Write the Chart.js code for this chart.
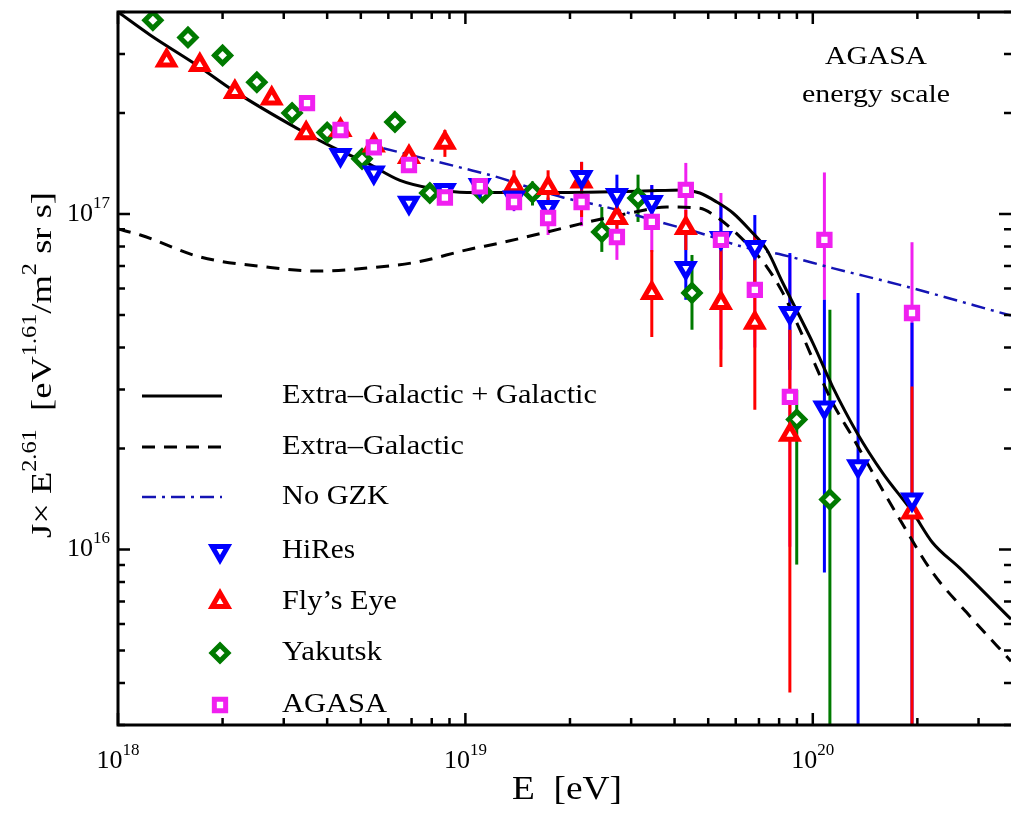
<!DOCTYPE html>
<html>
<head>
<meta charset="utf-8">
<script src="https://cdn.jsdelivr.net/npm/chart.js@4.4.1/dist/chart.umd.min.js"></script>
<style>
  html, body { margin: 0; padding: 0; background: #fff; }
  canvas { display: block; }
</style>
</head>
<body>
<canvas id="spectrum" width="1011" height="813"></canvas>
<script>
// axis range
const xMin = 1e18, xMax = 3.72e20;
const yMin = 3e15, yMax = 4e17;

// model curves (E in eV, J*E^2.61)
const totalE = [1e18, 1.24e18, 1.72e18, 2.14e18, 3.34e18, 4.16e18, 5.21e18, 6.48e18, 8.06e18, 1.01e19, 1.75e19, 3.18e19, 4.23e19, 4.73e19, 5.29e19, 5.89e19, 6.59e19, 7.38e19, 8.2e19, 9.18e19, 1e20, 1.14e20, 1.34e20, 1.59e20, 1.94e20, 2.21e20, 2.65e20, 3.72e20];
const totalJ = [4.0e17, 3.41e17, 2.74e17, 2.34e17, 1.78e17, 1.58e17, 1.42e17, 1.26e17, 1.19e17, 1.16e17, 1.16e17, 1.17e17, 1.18e17, 1.155e17, 1.086e17, 1.007e17, 8.96e16, 7.81e16, 6.23e16, 4.94e16, 4.13e16, 3.06e16, 2.23e16, 1.69e16, 1.29e16, 1.05e16, 8.8e15, 6.2e15];

const extraE = [1e18, 1.16e18, 1.72e18, 2.68e18, 3.74e18, 5.21e18, 7.25e18, 1.01e19, 1.26e19, 1.72e19, 2.39e19, 3.03e19, 3.8e19, 4.73e19, 5.29e19, 5.89e19, 6.59e19, 7.38e19, 8.2e19, 9.18e19, 1.14e20, 1.3e20, 1.53e20, 1.78e20, 2.21e20, 2.77e20, 3.72e20];
const extraJ = [9.02e16, 8.66e16, 7.45e16, 6.95e16, 6.76e16, 6.9e16, 7.19e16, 7.82e16, 8.2e16, 8.84e16, 9.6e16, 1.01e17, 1.05e17, 1.04e17, 9.8e16, 8.96e16, 7.98e16, 6.95e16, 5.82e16, 4.52e16, 2.74e16, 2.17e16, 1.61e16, 1.23e16, 8.55e15, 6.5e15, 4.65e15];

const nogzkE = [5.8e18, 7.91e18, 9.84e18, 1.23e19, 1.53e19, 1.91e19, 2.44e19, 2.92e19, 3.63e19, 4.73e19, 6.17e19, 8.2e19, 1.14e20, 1.78e20, 3.72e20];
const nogzkJ = [1.57e17, 1.45e17, 1.37e17, 1.29e17, 1.2e17, 1.12e17, 1.06e17, 1.01e17, 9.46e16, 8.78e16, 8.03e16, 7.55e16, 6.9e16, 6.15e16, 4.98e16];

// measurements (value, lower and upper end of error bar)
const hiresE = [4.37e18, 5.45e18, 6.88e18, 8.73e18, 1.1e19, 1.38e19, 1.73e19, 2.16e19, 2.73e19, 3.44e19, 4.31e19, 5.44e19, 6.81e19, 8.59e19, 1.08e20, 1.35e20, 1.93e20];
const hiresJ = [1.5e17, 1.33e17, 1.08e17, 1.18e17, 1.22e17, 1.12e17, 1.05e17, 1.29e17, 1.14e17, 1.086e17, 6.91e16, 8.48e16, 7.98e16, 5.07e16, 2.65e16, 1.77e16, 1.41e16];
const hiresLo = [1.45e17, 1.29e17, 1.04e17, 1.13e17, 1.17e17, 1.03e17, 9.9e16, 1.16e17, 9.93e16, 8.96e16, 5.55e16, 6.36e16, 6.15e16, 3.43e16, 8.54e15, 1e15, 1e15];
const hiresHi = [1.55e17, 1.37e17, 1.12e17, 1.23e17, 1.27e17, 1.22e17, 1.12e17, 1.43e17, 1.31e17, 1.22e17, 8.66e16, 1.064e17, 9.93e16, 7.65e16, 5.55e16, 5.82e16, 4.74e16];

const flysE = [1.38e18, 1.72e18, 2.17e18, 2.77e18, 3.48e18, 4.37e18, 5.45e18, 6.88e18, 8.73e18, 1.38e19, 1.73e19, 2.16e19, 2.73e19, 3.44e19, 4.31e19, 5.44e19, 6.81e19, 8.59e19, 1.93e20];
const flysJ = [2.87e17, 2.78e17, 2.31e17, 2.21e17, 1.74e17, 1.78e17, 1.6e17, 1.48e17, 1.63e17, 1.21e17, 1.195e17, 1.25e17, 9.73e16, 5.82e16, 9.08e16, 5.43e16, 4.74e16, 2.2e16, 1.29e16];
const flysLo = [2.8e17, 2.7e17, 2.25e17, 2.15e17, 1.69e17, 1.72e17, 1.54e17, 1.41e17, 1.48e17, 1.064e17, 1.064e17, 9.8e16, 8.37e16, 4.3e16, 7.81e16, 3.5e16, 2.61e16, 3.75e15, 1e15];
const flysHi = [2.95e17, 2.86e17, 2.38e17, 2.28e17, 1.8e17, 1.84e17, 1.66e17, 1.55e17, 1.78e17, 1.35e17, 1.35e17, 1.43e17, 1.1e17, 7.81e16, 1.028e17, 7.81e16, 8.66e16, 4.52e16, 3.06e16];

const yakE = [1.26e18, 1.59e18, 2.0e18, 2.51e18, 3.17e18, 4.0e18, 5.04e18, 6.27e18, 7.9e18, 1.12e19, 1.56e19, 2.47e19, 3.14e19, 4.49e19, 8.99e19, 1.12e20];
const yakJ = [3.78e17, 3.36e17, 2.97e17, 2.47e17, 2.0e17, 1.75e17, 1.46e17, 1.88e17, 1.155e17, 1.16e17, 1.16e17, 8.84e16, 1.116e17, 5.82e16, 2.44e16, 1.41e16];
const yakLo = [3.7e17, 3.29e17, 2.9e17, 2.41e17, 1.95e17, 1.7e17, 1.42e17, 1.82e17, 1.11e17, 1.11e17, 1.06e17, 7.71e16, 9.47e16, 4.52e16, 9.02e15, 1e15];
const yakHi = [3.86e17, 3.43e17, 3.04e17, 2.53e17, 2.05e17, 1.8e17, 1.5e17, 1.94e17, 1.2e17, 1.21e17, 1.25e17, 1.049e17, 1.31e17, 7.55e16, 2.99e16, 5.18e16];

const agasaE = [3.5e18, 4.37e18, 5.45e18, 6.88e18, 8.73e18, 1.1e19, 1.38e19, 1.73e19, 2.16e19, 2.73e19, 3.44e19, 4.31e19, 5.44e19, 6.81e19, 8.59e19, 1.08e20, 1.93e20];
const agasaJ = [2.14e17, 1.78e17, 1.58e17, 1.4e17, 1.12e17, 1.21e17, 1.086e17, 9.73e16, 1.086e17, 8.54e16, 9.47e16, 1.18e17, 8.37e16, 5.94e16, 2.85e16, 8.37e16, 5.07e16];
const agasaLo = [2.08e17, 1.72e17, 1.52e17, 1.34e17, 1.07e17, 1.15e17, 1.02e17, 8.66e16, 9.2e16, 7.3e16, 7.71e16, 8.78e16, 3.94e16, 4.0e16, 1.02e16, 5.55e16, 3.06e16];
const agasaHi = [2.2e17, 1.84e17, 1.64e17, 1.46e17, 1.17e17, 1.27e17, 1.15e17, 1.1e17, 1.22e17, 1.0e17, 1.22e17, 1.42e17, 1.155e17, 8.78e16, 7.55e16, 1.33e17, 8.24e16];

const BLUE = '#0000ff', RED = '#ff0000', GREEN = '#007a00', MAGENTA = '#f020f0';
const SERIF = '"Liberation Serif", "DejaVu Serif", serif';

const pts = (xs, ys) => xs.map((v, i) => ({ x: v, y: ys[i] }));

function pointSet(label, xs, ys, lo, hi, color, style, radius, rotation) {
    return {
        label: label,
        data: pts(xs, ys),
        errLo: lo,
        errHi: hi,
        showLine: false,
        pointStyle: style,
        pointRotation: rotation || 0,
        pointRadius: radius,
        pointBorderWidth: 5,
        pointBorderColor: color,
        pointBackgroundColor: '#fff',
        borderColor: color
    };
}

function curveSet(label, xs, ys, color, width, dash) {
    return {
        label: label,
        data: pts(xs, ys),
        showLine: true,
        pointRadius: 0,
        borderColor: color,
        borderWidth: width,
        borderDash: dash,
        cubicInterpolationMode: 'monotone'
    };
}

// text with superscripts: parts = [[text, isSup], ...]
function richText(ctx, parts, x, y, size, align, width) {
    const supSize = Math.round(size * 0.65);
    const widths = parts.map(([t, s]) => {
        ctx.font = (s ? supSize : size) + 'px ' + SERIF;
        return ctx.measureText(t).width;
    });
    const total = widths.reduce((a, b) => a + b, 0);
    const k = width ? width / total : 1;
    ctx.save();
    ctx.translate(x, y);
    ctx.scale(k, 1);
    let cx = align === 'center' ? -total / 2 : (align === 'right' ? -total : 0);
    ctx.textBaseline = 'middle';
    ctx.textAlign = 'left';
    ctx.fillStyle = '#000';
    parts.forEach(([t, s], i) => {
        ctx.font = (s ? supSize : size) + 'px ' + SERIF;
        ctx.fillText(t, cx, s ? -size * 0.42 : 0);
        cx += widths[i];
    });
    ctx.restore();
}

const errorBars = {
    id: 'errorBars',
    beforeDatasetsDraw(chart) {
        const { ctx, chartArea: a, scales: { x, y } } = chart;
        ctx.save();
        ctx.beginPath();
        ctx.rect(a.left, a.top, a.right - a.left, a.bottom - a.top);
        ctx.clip();
        ctx.lineWidth = 3;
        chart.data.datasets.forEach(ds => {
            if (!ds.errLo) return;
            ctx.strokeStyle = ds.borderColor;
            ds.data.forEach((p, i) => {
                const px = x.getPixelForValue(p.x);
                ctx.beginPath();
                ctx.moveTo(px, y.getPixelForValue(ds.errLo[i]));
                ctx.lineTo(px, y.getPixelForValue(ds.errHi[i]));
                ctx.stroke();
            });
        });
        ctx.restore();
    }
};

const frame = {
    id: 'frame',
    afterDraw(chart) {
        const { ctx, chartArea: a, scales: { x, y } } = chart;
        ctx.save();
        ctx.strokeStyle = '#000';
        ctx.lineWidth = 3;
        ctx.beginPath();
        ctx.moveTo(a.right, a.top);
        ctx.lineTo(a.left, a.top);
        ctx.lineTo(a.left, a.bottom);
        ctx.lineTo(a.right, a.bottom);
        ctx.stroke();

        // ticks on all four sides
        ctx.lineWidth = 2.5;
        ctx.beginPath();
        for (let d = 18; d <= 20; d++) {
            for (let m = 1; m <= 9; m++) {
                const v = m * Math.pow(10, d);
                if (v > xMax) break;
                const px = x.getPixelForValue(v);
                const len = m === 1 ? 12 : 7;
                ctx.moveTo(px, a.bottom); ctx.lineTo(px, a.bottom - len);
                ctx.moveTo(px, a.top); ctx.lineTo(px, a.top + len);
            }
        }
        for (let d = 15; d <= 17; d++) {
            for (let m = 1; m <= 9; m++) {
                const v = m * Math.pow(10, d);
                if (v < yMin || v > yMax) continue;
                const py = y.getPixelForValue(v);
                const len = m === 1 ? 12 : 7;
                ctx.moveTo(a.left, py); ctx.lineTo(a.left + len, py);
                ctx.moveTo(a.right, py); ctx.lineTo(a.right - len, py);
            }
        }
        ctx.stroke();

        // tick labels
        [18, 19, 20].forEach(d => {
            richText(ctx, [['10', 0], [String(d), 1]], x.getPixelForValue(Math.pow(10, d)), 761, 26, 'center');
        });
        [16, 17].forEach(d => {
            richText(ctx, [['10', 0], [String(d), 1]], 110, y.getPixelForValue(Math.pow(10, d)), 26, 'right');
        });

        // axis titles
        richText(ctx, [['E  [eV]', 0]], 567, 790, 34, 'center', 110);
        ctx.save();
        ctx.translate(43, 365);
        ctx.rotate(-Math.PI / 2);
        richText(ctx, [['J\u00d7 E', 0], ['2.61', 1], ['  [eV', 0], ['1.61', 1], ['/m', 0], ['2', 1], [' sr s]', 0]], 0, 0, 30, 'center', 346);
        ctx.restore();

        // annotation
        richText(ctx, [['AGASA', 0]], 876, 57, 26, 'center', 102);
        richText(ctx, [['energy scale', 0]], 876, 95, 26, 'center', 148);

        // legend
        const lines = [
            ['Extra\u2013Galactic + Galactic', 396, '#000', 3, [], 315],
            ['Extra\u2013Galactic', 447, '#000', 3, [13, 9], 182],
            ['No GZK', 497, '#1414b4', 2.5, [14, 6, 3, 6], 107]
        ];
        lines.forEach(([t, ly, c, w, dash, tw]) => {
            ctx.save();
            ctx.strokeStyle = c;
            ctx.lineWidth = w;
            ctx.setLineDash(dash);
            ctx.beginPath();
            ctx.moveTo(142, ly); ctx.lineTo(222, ly);
            ctx.stroke();
            ctx.restore();
            richText(ctx, [[t, 0]], 282, ly, 28, 'left', tw);
        });
        const marks = [
            ['HiRes', 551, BLUE, 'triangle', 9, 180, 73],
            ['Fly\u2019s Eye', 602, RED, 'triangle', 9, 0, 115],
            ['Yakutsk', 653, GREEN, 'rectRot', 8, 0, 100],
            ['AGASA', 705, MAGENTA, 'rect', 8, 0, 105]
        ];
        marks.forEach(([t, ly, c, style, r, rot, tw]) => {
            ctx.save();
            ctx.fillStyle = '#fff';
            ctx.strokeStyle = c;
            ctx.lineWidth = 5;
            Chart.helpers.drawPoint(ctx, { pointStyle: style, radius: r, rotation: rot, borderWidth: 5 }, 220, ly);
            ctx.restore();
            richText(ctx, [[t, 0]], 282, ly, 28, 'left', tw);
        });
        ctx.restore();
    }
};

const datasets = [
    pointSet('AGASA', agasaE, agasaJ, agasaLo, agasaHi, MAGENTA, 'rect', 8),
    pointSet('HiRes', hiresE, hiresJ, hiresLo, hiresHi, BLUE, 'triangle', 9, 180),
    pointSet('Fly\u2019s Eye', flysE, flysJ, flysLo, flysHi, RED, 'triangle', 9),
    pointSet('Yakutsk', yakE, yakJ, yakLo, yakHi, GREEN, 'rectRot', 8),
    curveSet('Extra\u2013Galactic + Galactic', totalE, totalJ, '#000', 3, []),
    curveSet('Extra\u2013Galactic', extraE, extraJ, '#000', 3, [13, 9]),
    curveSet('No GZK', nogzkE, nogzkJ, '#1414b4', 2.5, [14, 6, 3, 6])
];

new Chart(document.getElementById('spectrum').getContext('2d'), {
    type: 'scatter',
    data: { datasets: datasets },
    options: {
        responsive: false,
        animation: false,
        devicePixelRatio: 1,
        layout: { autoPadding: false, padding: { left: 118, right: 0, top: 12, bottom: 88 } },
        plugins: { legend: { display: false }, tooltip: { enabled: false } },
        scales: {
            x: { type: 'logarithmic', min: xMin, max: xMax, display: false },
            y: { type: 'logarithmic', min: yMin, max: yMax, display: false }
        }
    },
    plugins: [errorBars, frame]
});
</script>
</body>
</html>
